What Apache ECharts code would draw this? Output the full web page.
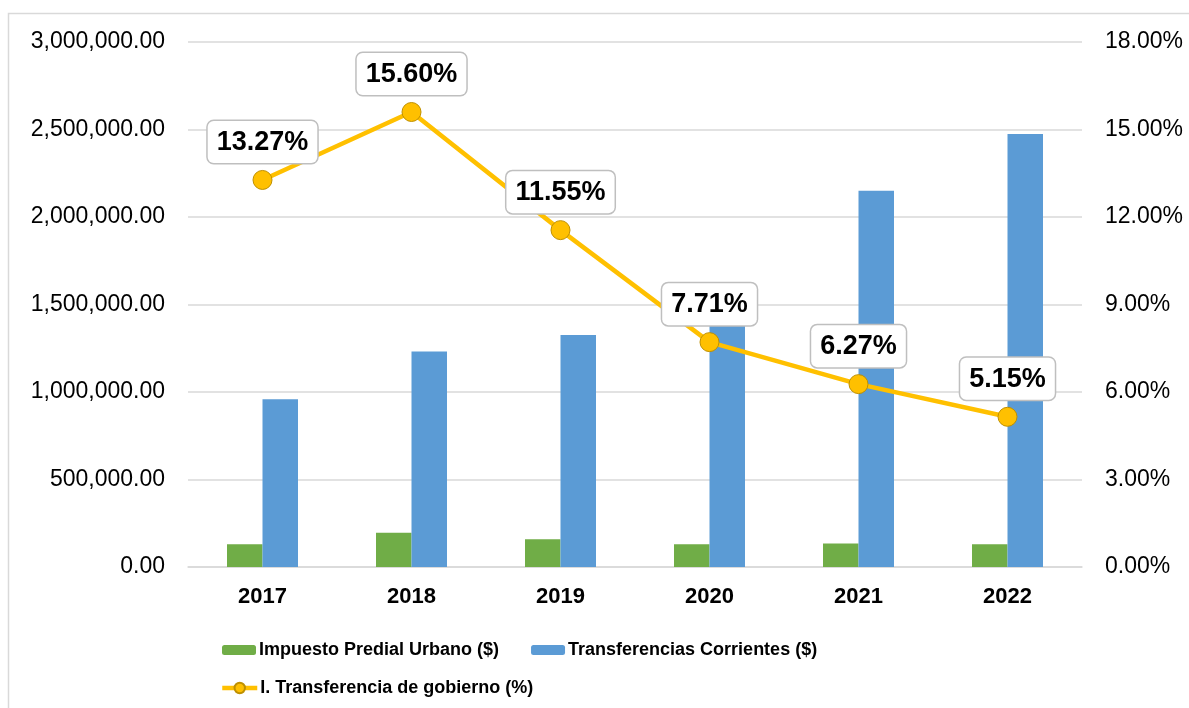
<!DOCTYPE html>
<html>
<head>
<meta charset="utf-8">
<script src="https://cdn.jsdelivr.net/npm/echarts@6/dist/echarts.min.js"></script>
<style>
  html, body { margin: 0; padding: 0; background: #fff; }
  #chart { width: 1189px; height: 708px; }
</style>
</head>
<body>
<div id="chart"></div>
<script>
// categorias y series
const years = ['2017', '2018', '2019', '2020', '2021', '2022'];
const impuestoPredial = [130000, 196000, 158000, 130000, 135000, 130000];
const transferencias = [958000, 1232000, 1326000, 1420000, 2150000, 2474000];
const indiceTransf = [13.27, 15.60, 11.55, 7.71, 6.27, 5.15];

const seriesNames = [
  'Impuesto Predial Urbano ($)',
  'Transferencias Corrientes ($)',
  'I. Transferencia de gobierno (%)',
];

const baseFont = 'Arial, "Liberation Sans", sans-serif';

const chart = echarts.init(document.getElementById('chart'));

const legendText = {
  color: '#000',
  fontSize: 18,
  fontWeight: 'bold',
  fontFamily: baseFont,
  padding: [0, 0, 0, -2],
};

chart.setOption({
  animation: false,
  backgroundColor: '#fff',
  graphic: [
    {
      type: 'rect',
      shape: { x: 8.5, y: 13.5, width: 1400, height: 900 },
      style: { fill: 'none', stroke: '#D9D9D9', lineWidth: 1.5 },
      silent: true,
    },
  ],
  grid: { left: 188, right: 107, top: 42, bottom: 141 },
  legend: [
    {
      data: [seriesNames[0], seriesNames[1]],
      left: 217,
      top: 636,
      itemWidth: 34,
      itemHeight: 10,
      itemGap: 32,
      textStyle: legendText,
    },
    {
      data: [seriesNames[2]],
      left: 215,
      top: 674,
      itemWidth: 35,
      itemHeight: 13,
      lineStyle: { width: 4.5 },
      textStyle: legendText,
    },
  ],
  xAxis: {
    type: 'category',
    data: years,
    axisTick: { show: false },
    axisLine: { lineStyle: { color: '#D9D9D9', width: 1.5 } },
    axisLabel: {
      color: '#000',
      fontSize: 22,
      fontWeight: 'bold',
      fontFamily: baseFont,
      margin: 19,
    },
  },
  yAxis: [
    {
      type: 'value',
      min: 0,
      max: 3000000,
      interval: 500000,
      axisLine: { show: false },
      axisTick: { show: false },
      splitLine: { lineStyle: { color: '#D9D9D9', width: 1.5 } },
      axisLabel: {
        color: '#000',
        fontSize: 23,
        fontFamily: baseFont,
        margin: 23,
        formatter: (v) => v.toLocaleString('en-US', { minimumFractionDigits: 2, maximumFractionDigits: 2 }),
      },
    },
    {
      type: 'value',
      min: 0,
      max: 18,
      interval: 3,
      axisLine: { show: false },
      axisTick: { show: false },
      splitLine: { show: false },
      axisLabel: {
        color: '#000',
        fontSize: 23,
        fontFamily: baseFont,
        margin: 23,
        formatter: (v) => v.toFixed(2) + '%',
      },
    },
  ],
  series: [
    {
      name: seriesNames[0],
      type: 'bar',
      data: impuestoPredial,
      barWidth: 35.5,
      barGap: '0%',
      itemStyle: { color: '#70AD47' },
    },
    {
      name: seriesNames[1],
      type: 'bar',
      data: transferencias,
      barWidth: 35.5,
      barGap: '0%',
      itemStyle: { color: '#5B9BD5' },
    },
    {
      name: seriesNames[2],
      type: 'line',
      yAxisIndex: 1,
      data: indiceTransf,
      symbol: 'circle',
      symbolSize: 19,
      z: 5,
      lineStyle: { color: '#FFC000', width: 4.5 },
      itemStyle: { color: '#FFC000', borderColor: '#BF9000', borderWidth: 1 },
      label: {
        show: true,
        position: 'top',
        distance: 7,
        formatter: (p) => p.value.toFixed(2) + '%',
        color: '#000',
        fontSize: 27,
        fontWeight: 'bold',
        fontFamily: baseFont,
        backgroundColor: '#fff',
        borderColor: '#BFBFBF',
        borderWidth: 1.5,
        borderRadius: 6,
        padding: [8, 9, 7, 9],
      },
    },
  ],
});
</script>
</body>
</html>
